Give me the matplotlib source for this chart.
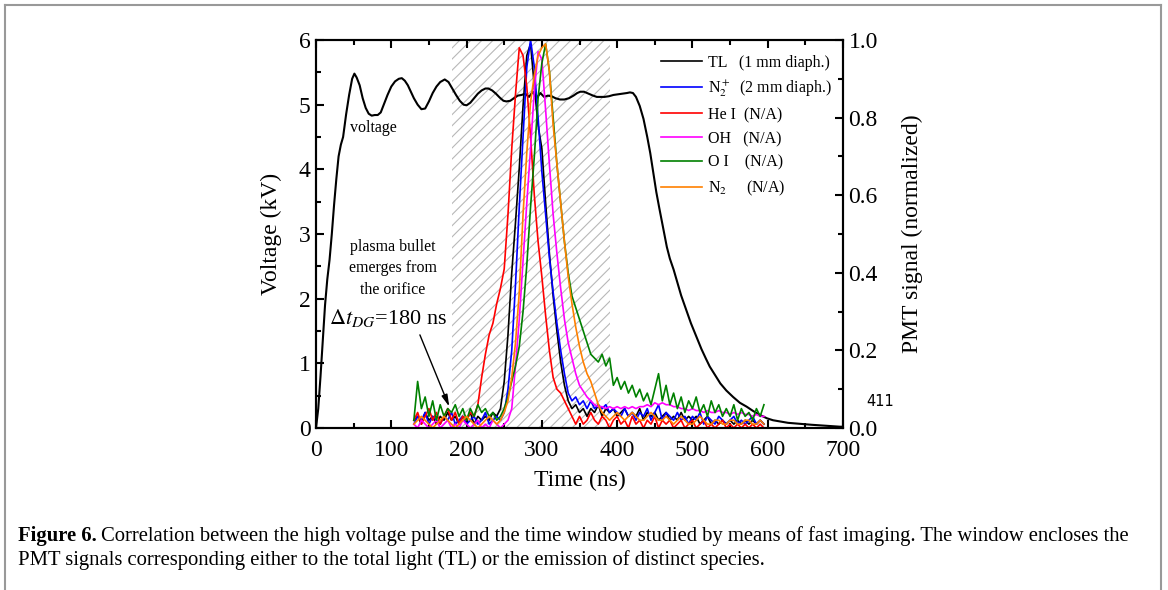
import numpy as np
import matplotlib
matplotlib.use("Agg")
import matplotlib.pyplot as plt
from matplotlib.lines import Line2D
from matplotlib.ticker import MultipleLocator, FormatStrFormatter

plt.rcParams['font.family'] = ['Liberation Serif', 'DejaVu Serif']
plt.rcParams['mathtext.fontset'] = 'stix'
plt.rcParams['hatch.linewidth'] = 0.8

# ---------------- data ----------------
v_time = [0, 3, 6, 9, 12, 15, 18, 21, 24, 27, 30, 33, 36, 40, 44, 48, 51, 54, 58, 62, 66, 70, 74, 78, 82, 86, 90,
          95, 100, 105, 110, 114, 118, 122, 126, 130, 135, 140, 145, 150, 155, 160, 165, 171, 176, 181, 186, 191,
          196, 200, 205, 210, 215, 220, 225, 229, 234, 239, 244, 249, 253, 258, 263, 268, 273, 278, 283, 288, 293,
          298, 303, 308, 313, 318, 324, 330, 336, 342, 347, 351, 356, 362, 368, 373, 377, 383, 389, 395, 401, 407,
          413, 417, 421, 425, 430, 435, 440, 444, 448, 452, 456, 461, 466, 470, 475, 479, 485, 492, 498, 505, 512,
          518, 523, 530, 537, 545, 554, 563, 572, 581, 590, 599, 607, 617, 627, 637, 647, 658, 670, 683, 696, 700]
voltage = [0.0, 0.3, 0.8, 1.35, 1.9, 2.3, 2.6, 3.0, 3.45, 3.85, 4.2, 4.38, 4.5, 4.85, 5.15, 5.4, 5.48, 5.42, 5.3,
           5.1, 4.95, 4.86, 4.83, 4.84, 4.84, 4.88, 5.0, 5.15, 5.28, 5.36, 5.4, 5.41, 5.37, 5.3, 5.2, 5.1, 5.0, 4.93,
           4.94, 5.05, 5.18, 5.28, 5.35, 5.39, 5.35, 5.25, 5.15, 5.06, 5.0, 4.99, 5.03, 5.1, 5.17, 5.22, 5.25, 5.25,
           5.22, 5.17, 5.11, 5.06, 5.05, 5.06, 5.10, 5.14, 5.15, 5.17, 5.12, 5.2, 5.1, 5.18, 5.12, 5.14, 5.13, 5.1,
           5.08, 5.08, 5.1, 5.14, 5.18, 5.2, 5.2, 5.17, 5.14, 5.12, 5.12, 5.12, 5.13, 5.15, 5.16, 5.17, 5.18, 5.19,
           5.18, 5.12, 4.98, 4.78, 4.5, 4.25, 3.95, 3.65, 3.4, 3.1, 2.8, 2.62, 2.45, 2.29, 2.05, 1.82, 1.62, 1.42,
           1.22, 1.07, 0.95, 0.82, 0.69, 0.58, 0.48, 0.39, 0.33, 0.26, 0.2, 0.15, 0.12, 0.1, 0.08, 0.07, 0.06, 0.05,
           0.04, 0.03, 0.02, 0.02]

pmt_time = list(range(130, 600, 5))  # 130 ... 595 ns

tl = [0.02, 0.03, 0.01, 0.04, 0.02, 0.03, 0.01, 0.03, 0.02, 0.04, 0.02, 0.03, 0.01, 0.03, 0.02, 0.04, 0.01, 0.03,
      0.02, 0.03, 0.02, 0.04, 0.03, 0.05, 0.12, 0.24, 0.40, 0.53, 0.67, 0.83, 0.96, 0.99, 0.88, 0.78, 0.72, 0.58,
      0.45, 0.34, 0.25, 0.17, 0.11, 0.07, 0.05, 0.06, 0.04, 0.05, 0.03, 0.05, 0.04, 0.06, 0.03, 0.05, 0.04, 0.05,
      0.03, 0.04, 0.05, 0.03, 0.04, 0.03, 0.05, 0.02, 0.04, 0.03, 0.04, 0.02, 0.03, 0.04, 0.02, 0.03, 0.02, 0.04,
      0.02, 0.03, 0.02, 0.03, 0.01, 0.02, 0.03, 0.01, 0.02, 0.01, 0.02, 0.01, 0.02, 0.01, 0.02, 0.01, 0.02, 0.01,
      0.02, 0.01, 0.02, 0.01]
n2p = [0.01, 0.03, 0.02, 0.04, 0.01, 0.03, 0.02, 0.01, 0.03, 0.02, 0.04, 0.01, 0.02, 0.03, 0.01, 0.02, 0.03, 0.01,
       0.02, 0.04, 0.01, 0.02, 0.03, 0.02, 0.04, 0.10, 0.20, 0.37, 0.57, 0.75, 0.93, 1.00, 0.93, 0.80, 0.66, 0.55,
       0.44, 0.35, 0.27, 0.20, 0.14, 0.09, 0.07, 0.08, 0.06, 0.07, 0.05, 0.07, 0.05, 0.06, 0.05, 0.06, 0.04, 0.05,
       0.04, 0.03, 0.05, 0.03, 0.04, 0.02, 0.04, 0.03, 0.05, 0.02, 0.04, 0.06, 0.02, 0.04, 0.03, 0.02, 0.04, 0.02,
       0.03, 0.01, 0.03, 0.02, 0.04, 0.01, 0.03, 0.02, 0.01, 0.03, 0.02, 0.01, 0.02, 0.03, 0.01, 0.02, 0.01, 0.02,
       0.03, 0.01, 0.02, 0.01]
hei = [0.02, 0.04, 0.01, 0.03, 0.05, 0.02, 0.04, 0.01, 0.03, 0.05, 0.02, 0.04, 0.01, 0.03, 0.02, 0.04, 0.03, 0.06,
       0.13, 0.19, 0.24, 0.27, 0.32, 0.36, 0.41, 0.55, 0.72, 0.86, 0.98, 0.96, 0.88, 0.75, 0.60, 0.48, 0.39, 0.29,
       0.20, 0.13, 0.10, 0.09, 0.07, 0.05, 0.03, 0.01, 0.03, 0.01, 0.02, 0.04, 0.02, 0.01, 0.03, 0.02, 0.00, 0.02,
       0.03, 0.01, 0.02, 0.00, 0.03, 0.01, 0.02, 0.00, 0.02, 0.01, 0.03, 0.00, 0.02, 0.01, 0.02, 0.00, 0.01, 0.02,
       0.00, 0.01, 0.02, 0.00, 0.01, 0.02, 0.00, 0.01, 0.00, 0.01, 0.02, 0.00, 0.01, 0.00, 0.01, 0.00, 0.01, 0.00,
       0.01, 0.00, 0.01, 0.00]
oh = [0.01, 0.00, 0.02, 0.01, 0.00, 0.01, 0.02, 0.00, 0.01, 0.02, 0.00, 0.01, 0.00, 0.02, 0.01, 0.00, 0.01, 0.02,
      0.00, 0.01, 0.00, 0.02, 0.01, 0.00, 0.01, 0.02, 0.05, 0.16, 0.28, 0.43, 0.58, 0.72, 0.87, 0.97, 0.95, 0.82,
      0.68, 0.55, 0.45, 0.36, 0.28, 0.22, 0.18, 0.14, 0.11, 0.095, 0.08, 0.07, 0.06, 0.055, 0.055, 0.05, 0.055,
      0.05, 0.055, 0.05, 0.055, 0.05, 0.055, 0.05, 0.055, 0.055, 0.06, 0.055, 0.065, 0.06, 0.065, 0.06, 0.06, 0.055,
      0.055, 0.05, 0.05, 0.045, 0.05, 0.045, 0.045, 0.04, 0.045, 0.04, 0.04, 0.045, 0.04, 0.04, 0.035, 0.04, 0.035,
      0.04, 0.035, 0.035, 0.03, 0.035, 0.03, 0.03]
oi = [0.02, 0.12, 0.05, 0.08, 0.03, 0.07, 0.02, 0.06, 0.03, 0.05, 0.04, 0.06, 0.03, 0.05, 0.02, 0.05, 0.03, 0.06,
      0.04, 0.05, 0.03, 0.04, 0.02, 0.03, 0.05, 0.08, 0.12, 0.16, 0.21, 0.30, 0.42, 0.57, 0.70, 0.85, 0.94, 0.99,
      0.92, 0.80, 0.68, 0.58, 0.48, 0.40, 0.34, 0.31, 0.28, 0.25, 0.22, 0.19, 0.18, 0.17, 0.19, 0.16, 0.18, 0.11,
      0.13, 0.10, 0.12, 0.09, 0.11, 0.08, 0.10, 0.07, 0.09, 0.06, 0.10, 0.14, 0.07, 0.11, 0.06, 0.09, 0.05, 0.08,
      0.04, 0.07, 0.05, 0.08, 0.04, 0.06, 0.03, 0.07, 0.04, 0.06, 0.03, 0.05, 0.03, 0.06, 0.02, 0.05, 0.03, 0.04,
      0.02, 0.05, 0.03, 0.06]
n2 = [0.01, 0.02, 0.03, 0.02, 0.01, 0.00, 0.01, 0.02, 0.03, 0.02, 0.01, 0.00, 0.01, 0.02, 0.03, 0.02, 0.01, 0.00,
      0.01, 0.02, 0.03, 0.02, 0.01, 0.02, 0.04, 0.07, 0.13, 0.22, 0.35, 0.55, 0.71, 0.84, 0.91, 0.96, 0.98, 0.99,
      0.92, 0.78, 0.68, 0.58, 0.48, 0.39, 0.32, 0.26, 0.21, 0.17, 0.14, 0.12, 0.09, 0.06, 0.04, 0.03, 0.02, 0.03,
      0.04, 0.03, 0.02, 0.03, 0.04, 0.03, 0.02, 0.02, 0.03, 0.04, 0.03, 0.02, 0.02, 0.03, 0.02, 0.01, 0.02, 0.03,
      0.02, 0.01, 0.01, 0.02, 0.03, 0.02, 0.01, 0.01, 0.02, 0.02, 0.01, 0.01, 0.02, 0.02, 0.01, 0.01, 0.02, 0.02,
      0.01, 0.01, 0.02, 0.01]

series_labels = ['TL   (1 mm diaph.)', r'N$_2^+$  (2 mm diaph.)', 'He I  (N/A)', 'OH   (N/A)',
                 'O I    (N/A)', r'N$_2$     (N/A)']
series_colors = ['black', '#0000ff', '#ff0000', '#ff00ff', '#008000', '#ff8000']
series_values = [tl, n2p, hei, oh, oi, n2]

window = (180, 390)
arrow_tip = (177, 0.33)
arrow_tail = (138, 1.44)

# ---------------- figure ----------------
W, H = 1168, 590
fig = plt.figure(figsize=(W / 100, H / 100), dpi=100)
ax = fig.add_axes([316 / W, 1 - 428 / H, (843 - 316) / W, (428 - 40) / H])
ax2 = ax.twinx()

ax.axvspan(window[0], window[1], facecolor='none', edgecolor='#b8b8b8', hatch='///', linewidth=0, zorder=0)
ax.plot(v_time, voltage, color='black', lw=1.5, zorder=3)

for vals, col, lab in zip(series_values, series_colors, series_labels):
    ax2.plot(pmt_time, vals, color=col, lw=1.2, label=lab)

ax.set_xlim(0, 700)
ax.set_ylim(0, 6)
ax2.set_ylim(0, 1.0)

ax.xaxis.set_major_locator(MultipleLocator(100))
ax.xaxis.set_minor_locator(MultipleLocator(50))
ax.yaxis.set_major_locator(MultipleLocator(1))
ax.yaxis.set_minor_locator(MultipleLocator(0.5))
ax2.yaxis.set_major_locator(MultipleLocator(0.2))
ax2.yaxis.set_minor_locator(MultipleLocator(0.1))
ax2.yaxis.set_major_formatter(FormatStrFormatter('%.1f'))

for a in (ax, ax2):
    for s in a.spines.values():
        s.set_linewidth(1.5)
    a.tick_params(which='major', direction='in', length=6, width=1.5, labelsize=17, pad=4)
    a.tick_params(which='minor', direction='in', length=3.5, width=1.5)
ax.tick_params(which='both', top=True)
ax.tick_params(axis='x', which='major', pad=9)

ax.set_xlabel('Time (ns)', fontsize=17, labelpad=6)
ax.set_ylabel('Voltage (kV)', fontsize=17, labelpad=12)
ax2.set_ylabel('PMT signal (normalized)', fontsize=17, labelpad=17)

leg = ax2.legend(loc='upper left', bbox_to_anchor=(0.655, 0.962), frameon=False, fontsize=11.5,
                 handlelength=2.55, handletextpad=0.4, labelspacing=0.5, borderaxespad=0, borderpad=0)

ax.text(75.7, 4.64, 'voltage', fontsize=11.5, ha='center', va='center')
ax.text(102, 2.47, 'plasma bullet\nemerges from\nthe orifice', fontsize=11.5, ha='center', va='center',
        linespacing=1.45)
ax.text(96, 1.70, r'$\Delta t_{DG}$=180 ns', fontsize=16, ha='center', va='center')
ax.annotate('', xy=arrow_tip, xytext=arrow_tail,
            arrowprops=dict(arrowstyle='-|>,head_length=0.7,head_width=0.18', color='black', lw=1.0,
                            shrinkA=0, shrinkB=0))

fig.text(880 / W, 1 - 402 / H, '411', fontsize=10.5, family='DejaVu Sans', ha='center', va='center')

# caption
fig.canvas.draw()
r = fig.canvas.get_renderer()
capsize = 14.85
t1 = fig.text(18 / W, 1 - 541 / H, 'Figure 6.', fontsize=capsize, fontweight='bold', va='baseline')
bb = t1.get_window_extent(renderer=r)
fig.text((bb.x1 + 4) / W, 1 - 541 / H,
         'Correlation between the high voltage pulse and the time window studied by means of fast imaging. '
         'The window encloses the', fontsize=capsize, va='baseline')
fig.text(18 / W, 1 - 565 / H,
         'PMT signals corresponding either to the total light (TL) or the emission of distinct species.',
         fontsize=capsize, va='baseline')

# border (open at bottom)
bc = '#999999'
fig.add_artist(Line2D([5 / W, 1161 / W], [1 - 5 / H, 1 - 5 / H], color=bc, lw=1.5))
fig.add_artist(Line2D([5 / W, 5 / W], [1 - 5 / H, 0], color=bc, lw=1.5))
fig.add_artist(Line2D([1161 / W, 1161 / W], [1 - 5 / H, 0], color=bc, lw=1.5))

fig.savefig('out.png', dpi=100)
